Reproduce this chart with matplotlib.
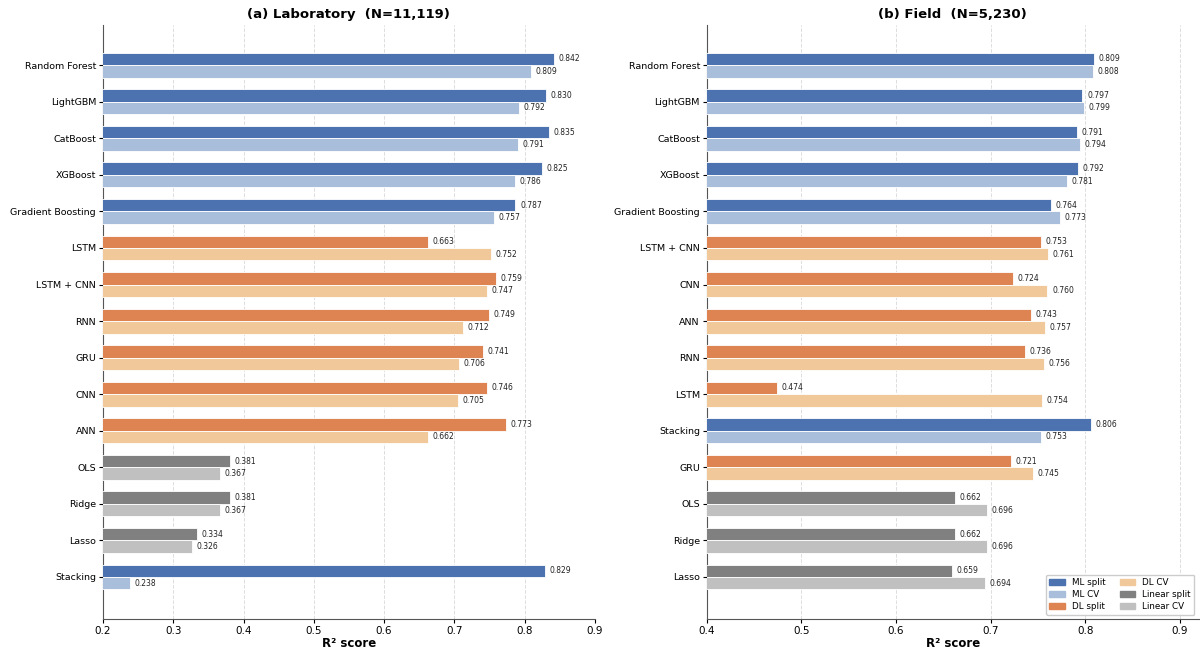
import matplotlib
matplotlib.use("Agg")
import matplotlib.pyplot as plt
from matplotlib.patches import Patch
import numpy as np

# Laboratory dataset
lab_models = ["Random Forest", "LightGBM", "CatBoost", "XGBoost", "Gradient Boosting",
              "LSTM", "LSTM + CNN", "RNN", "GRU", "CNN", "ANN",
              "OLS", "Ridge", "Lasso", "Stacking"]
lab_group = ["ML", "ML", "ML", "ML", "ML",
             "DL", "DL", "DL", "DL", "DL", "DL",
             "Linear", "Linear", "Linear", "ML"]
lab_split = [0.842, 0.830, 0.835, 0.825, 0.787,
             0.663, 0.759, 0.749, 0.741, 0.746, 0.773,
             0.381, 0.381, 0.334, 0.829]
lab_cv = [0.809, 0.792, 0.791, 0.786, 0.757,
          0.752, 0.747, 0.712, 0.706, 0.705, 0.662,
          0.367, 0.367, 0.326, 0.238]

# Field dataset
field_models = ["Random Forest", "LightGBM", "CatBoost", "XGBoost", "Gradient Boosting",
                "LSTM + CNN", "CNN", "ANN", "RNN", "LSTM", "Stacking", "GRU",
                "OLS", "Ridge", "Lasso"]
field_group = ["ML", "ML", "ML", "ML", "ML",
               "DL", "DL", "DL", "DL", "DL", "ML", "DL",
               "Linear", "Linear", "Linear"]
field_split = [0.809, 0.797, 0.791, 0.792, 0.764,
               0.753, 0.724, 0.743, 0.736, 0.474, 0.806, 0.721,
               0.662, 0.662, 0.659]
field_cv = [0.808, 0.799, 0.794, 0.781, 0.773,
            0.761, 0.760, 0.757, 0.756, 0.754, 0.753, 0.745,
            0.696, 0.696, 0.694]

colors = {
    "ML": ("#4C72B0", "#A8BEDB"),
    "DL": ("#DD8452", "#F0C899"),
    "Linear": ("#808080", "#C0C0C0"),
}

plt.rcParams["font.family"] = "DejaVu Sans"

fig, axes = plt.subplots(1, 2, figsize=(12, 6.52), dpi=100)
fig.subplots_adjust(left=0.0858, right=0.999, top=0.9617, bottom=0.0506, wspace=0.2276)

bar_h = 0.34


def draw_panel(ax, models, groups, split, cv, title, xlim, xticks):
    y = np.arange(len(models))
    dx = 0.0065 * (xlim[1] - xlim[0]) / 0.7
    for i in range(len(models)):
        c_split, c_cv = colors[groups[i]]
        ax.barh(y[i] - bar_h / 2, split[i], height=bar_h, color=c_split,
                edgecolor="white", linewidth=0.6, zorder=3)
        ax.barh(y[i] + bar_h / 2, cv[i], height=bar_h, color=c_cv,
                edgecolor="white", linewidth=0.6, zorder=3)
        ax.text(split[i] + dx, y[i] - bar_h / 2, f"{split[i]:.3f}",
                va="center", ha="left", fontsize=5.5, color="#222222")
        ax.text(cv[i] + dx, y[i] + bar_h / 2, f"{cv[i]:.3f}",
                va="center", ha="left", fontsize=5.5, color="#222222")
    ax.set_yticks(y)
    ax.set_yticklabels(models, fontsize=6.8)
    ax.set_ylim(len(models) - 1 + 1.15, -1.1)
    ax.set_xlim(*xlim)
    ax.set_xticks(xticks)
    ax.tick_params(axis="x", labelsize=7.5, pad=2, length=3)
    ax.tick_params(axis="y", length=3, pad=2)
    ax.set_xlabel("R² score", fontsize=8.5, fontweight="bold", labelpad=1)
    ax.set_title(title, fontsize=9.5, fontweight="bold", pad=5)
    ax.grid(axis="x", linestyle="--", color="#dddddd", linewidth=0.7, zorder=0)
    ax.set_axisbelow(True)
    for s in ("top", "right"):
        ax.spines[s].set_visible(False)
    for s in ("left", "bottom"):
        ax.spines[s].set_color("#555555")


draw_panel(axes[0], lab_models, lab_group, lab_split, lab_cv,
           "(a) Laboratory  (N=11,119)", (0.2, 0.9),
           [0.2, 0.3, 0.4, 0.5, 0.6, 0.7, 0.8, 0.9])
draw_panel(axes[1], field_models, field_group, field_split, field_cv,
           "(b) Field  (N=5,230)", (0.4, 0.92),
           [0.4, 0.5, 0.6, 0.7, 0.8, 0.9])

handles = [
    Patch(color=colors["ML"][0], label="ML split"),
    Patch(color=colors["ML"][1], label="ML CV"),
    Patch(color=colors["DL"][0], label="DL split"),
    Patch(color=colors["DL"][1], label="DL CV"),
    Patch(color=colors["Linear"][0], label="Linear split"),
    Patch(color=colors["Linear"][1], label="Linear CV"),
]
axes[1].legend(handles=handles, loc="lower right", ncol=2, fontsize=6.3,
               frameon=True, framealpha=1.0, edgecolor="#cccccc",
               handlelength=1.8, handleheight=0.55, columnspacing=1.6,
               labelspacing=0.35, borderaxespad=0.5)

fig.savefig("out.png", dpi=100)
